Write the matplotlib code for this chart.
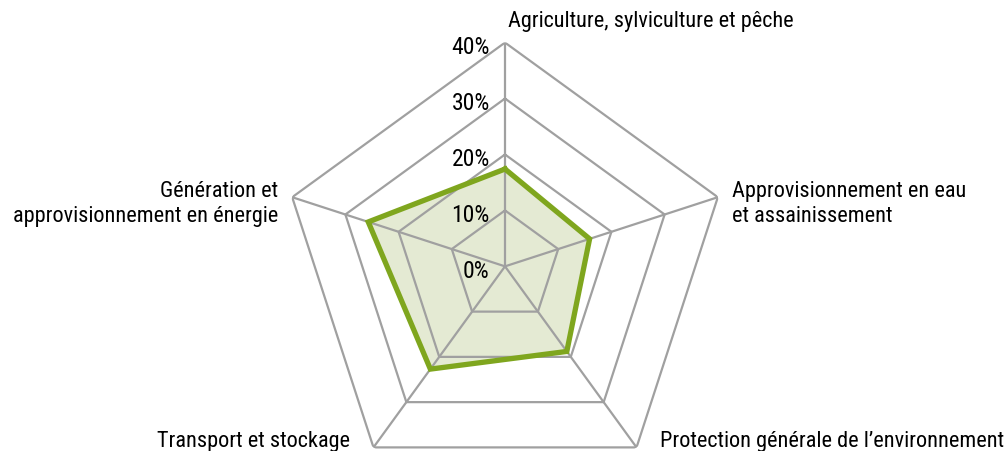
import numpy as np
import matplotlib.pyplot as plt

# Données
categories = ['Agriculture, sylviculture et pêche',
              'Approvisionnement en eau\net assainissement',
              'Protection générale de l\u2019environnement',
              'Transport et stockage',
              'Génération et\napprovisionnement en énergie']
values = [17.4, 15.9, 18.8, 22.7, 25.7]
ticks = [0, 10, 20, 30, 40]
tick_labels = ['0%', '10%', '20%', '30%', '40%']

plt.rcParams['font.family'] = ['Liberation Sans Narrow', 'Roboto Condensed', 'Roboto', 'DejaVu Sans']

grey = '#a0a0a0'
green = '#7fa61e'
fill = '#e4ead3'

n = len(categories)
angles = np.pi / 2 - np.arange(n) * 2 * np.pi / n
angles_closed = np.append(angles, angles[0])

fig = plt.figure(figsize=(10.08, 4.52), dpi=100)
ax = fig.add_axes([0.279, -0.087, 0.444, 0.991], projection='polar')
ax.set_ylim(0, 40)
ax.axis('off')

# Remplissage
vals = np.append(values, values[0])
ax.fill(angles_closed, vals, color=fill, zorder=1)

# Grille pentagonale
for t in ticks[1:]:
    ax.plot(angles_closed, [t] * (n + 1), color=grey, lw=1.6, zorder=2)
for a in angles:
    ax.plot([a, a], [0, 40], color=grey, lw=1.6, zorder=2)

# Série
ax.plot(angles_closed, vals, color=green, lw=3.8, zorder=3, solid_joinstyle='miter')

# Étiquettes des graduations
for t, lab in zip(ticks, tick_labels):
    ax.annotate(lab, xy=(np.pi / 2, t), xytext=(-11, -3), textcoords='offset points',
                ha='right', va='center', fontsize=17)

# Étiquettes des catégories
offsets = [((2, 16), 'left', 'center'),
           ((10, -4), 'left', 'center'),
           ((17, 5), 'left', 'center'),
           ((-17, 5), 'right', 'center'),
           ((-10, -4), 'right', 'center')]
for a, lab, (off, ha, va) in zip(angles, categories, offsets):
    ax.annotate(lab, xy=(a, 40), xytext=off, textcoords='offset points',
                ha=ha, va=va, fontsize=16, linespacing=1.25, annotation_clip=False)

fig.savefig('out.png', dpi=100)
